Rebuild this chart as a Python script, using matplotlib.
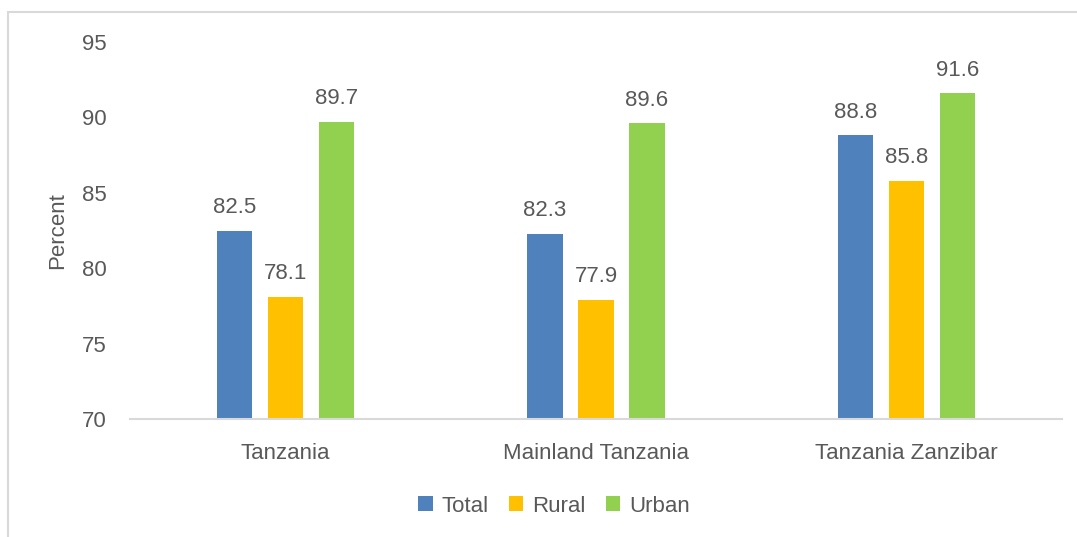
import numpy as np
import matplotlib.pyplot as plt
from matplotlib.patches import Rectangle

# data
regions = ['Tanzania', 'Mainland Tanzania', 'Tanzania Zanzibar']
series = ['Total', 'Rural', 'Urban']
total = [82.5, 82.3, 88.8]
rural = [78.1, 77.9, 85.8]
urban = [89.7, 89.6, 91.6]
colors = ['#4F81BD', '#FFC000', '#92D050']

plt.rcParams['font.family'] = ['Liberation Sans', 'DejaVu Sans']
txt = '#595959'
fs = 16

fig = plt.figure(figsize=(10.77, 5.37), dpi=100)
ax = fig.add_axes([130 / 1077, 1 - 419 / 537, 932 / 1077, 377 / 537])

x = np.arange(len(regions))
w = 0.113
step = 0.164
for i, (vals, c, name) in enumerate(zip([total, rural, urban], colors, series)):
    bars = ax.bar(x + (i - 1) * step, np.array(vals) - 70, w, bottom=70, color=c, label=name)
    for b, v in zip(bars, vals):
        ax.annotate('%.1f' % v, (b.get_x() + b.get_width() / 2, v), xytext=(0, 9),
                    textcoords='offset points', ha='center', va='bottom',
                    fontsize=fs, color=txt)

ax.set_xlim(-0.5, 2.5)
ax.set_ylim(70, 95)
ax.set_yticks([70, 75, 80, 85, 90, 95])
ax.set_xticks(x)
ax.set_xticklabels(regions)
ax.tick_params(axis='both', length=0, labelsize=fs, colors=txt)
ax.tick_params(axis='y', pad=17)
ax.tick_params(axis='x', pad=17)
for s in ['top', 'right', 'left']:
    ax.spines[s].set_visible(False)
ax.spines['bottom'].set_color('#D9D9D9')
ax.spines['bottom'].set_linewidth(1.5)

ax.set_ylabel('Percent', fontsize=fs, color=txt)
ax.yaxis.set_label_coords(-62 / 932, 0.5)

ax.legend(loc='center', bbox_to_anchor=(554 / 1077, 1 - 506 / 537), bbox_transform=fig.transFigure,
          ncol=3, frameon=False, fontsize=fs, labelcolor=txt, handlelength=0.65, handleheight=0.65,
          handletextpad=0.4, columnspacing=0.9)

# outer chart border (top and left visible)
fig.patches.append(Rectangle((8 / 1077, -0.1), 1.2, 1.1 - 12 / 537,
                             transform=fig.transFigure, fill=False, edgecolor='#D9D9D9', linewidth=1.5))

plt.savefig('out.png', dpi=100)
